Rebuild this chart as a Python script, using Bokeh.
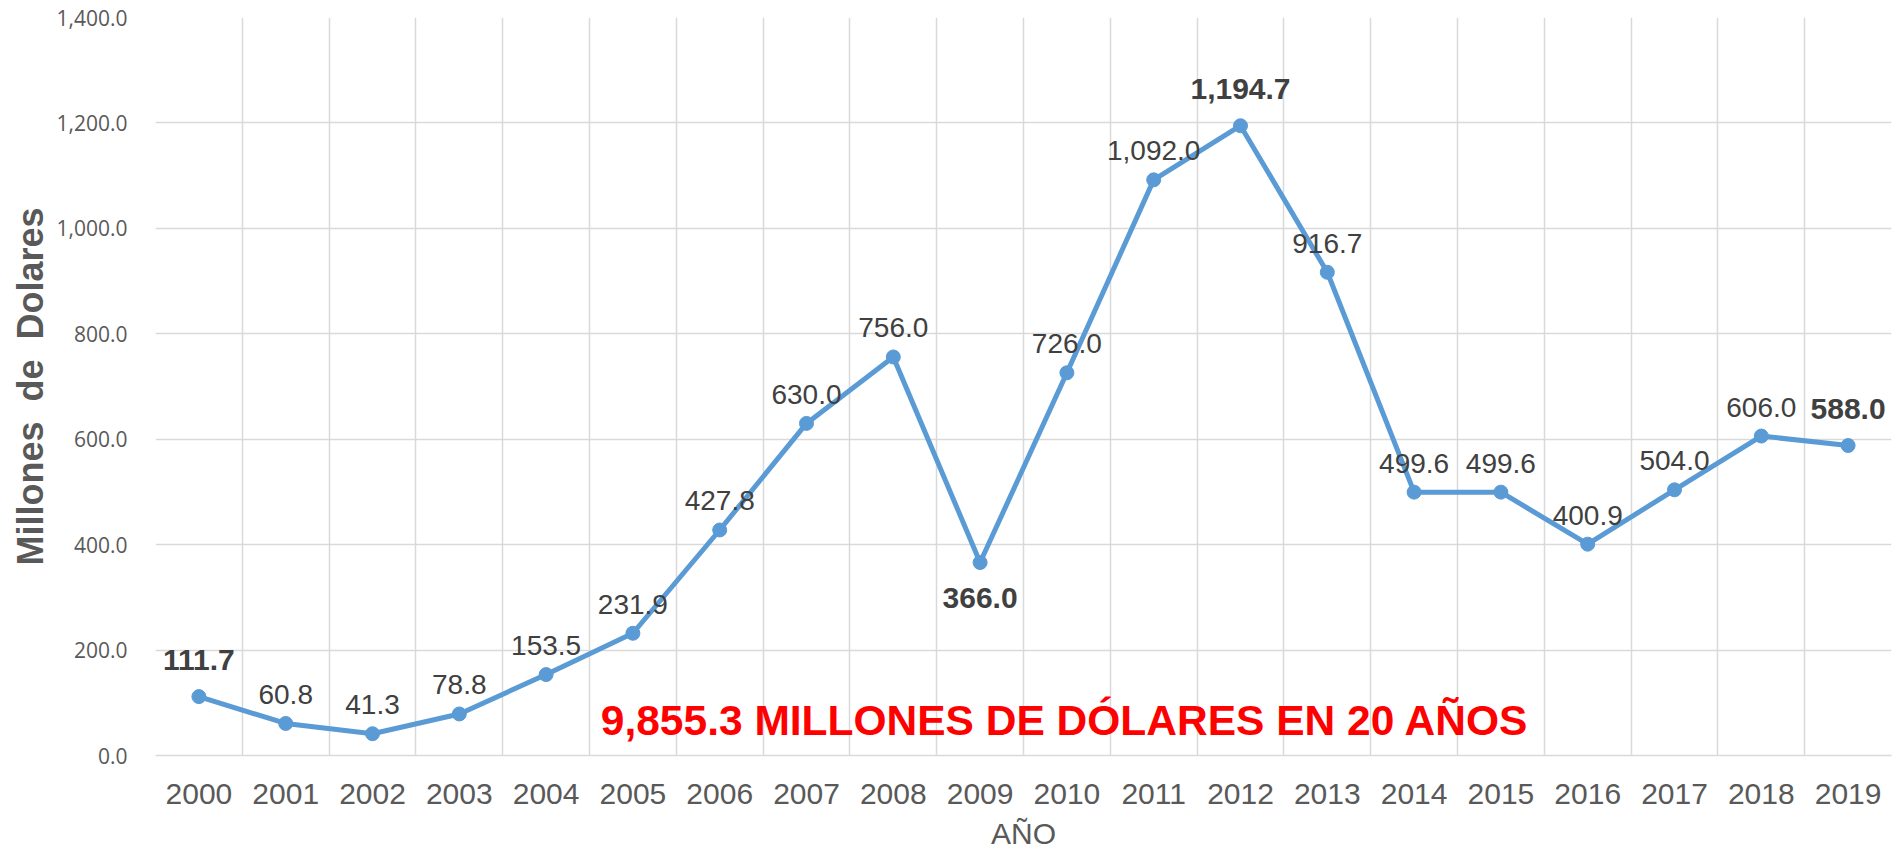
import numpy as np
from bokeh.plotting import figure
from bokeh.models import (ColumnDataSource, FixedTicker, Grid, NumeralTickFormatter,
                          Range1d, Label)
from bokeh.core.properties import value
from bokeh.embed import file_html
from bokeh.resources import INLINE

# ---- data ----
anios = ["2000", "2001", "2002", "2003", "2004", "2005", "2006", "2007", "2008", "2009",
         "2010", "2011", "2012", "2013", "2014", "2015", "2016", "2017", "2018", "2019"]
montos = [111.7, 60.8, 41.3, 78.8, 153.5, 231.9, 427.8, 630.0, 756.0, 366.0,
          726.0, 1092.0, 1194.7, 916.7, 499.6, 499.6, 400.9, 504.0, 606.0, 588.0]
destacados = ["2000", "2009", "2012", "2019"]   # bold labels
debajo = ["2009"]                                # labels placed below the point
y_ticks = [0, 200, 400, 600, 800, 1000, 1200, 1400]
titulo_y = "Millones \u00a0de \u00a0Dolares"
titulo_x = "AÑO"
nota = "9,855.3 MILLONES DE DÓLARES EN 20 AÑOS"

# ---- derived ----
n = len(anios)
xpos = [i + 0.5 for i in range(n)]
etiquetas = ["{:,.1f}".format(v) for v in montos]
estilo = ["bold" if a in destacados else "normal" for a in anios]
tam = ["30px" if a in destacados else "28px" for a in anios]
def off(a):
    if a in debajo:
        return 35
    return -37 if a in destacados else -29
yoff = [off(a) for a in anios]

src = ColumnDataSource(dict(x=xpos, y=montos, t=etiquetas, fs=estilo, sz=tam, yo=yoff))

GRID = "#d9d9d9"
TXT = "#595959"
BLUE = "#5B9BD5"

p = figure(width=1898, height=852, output_backend="svg", toolbar_location=None,
           x_range=Range1d(0, n), y_range=Range1d(0, 1400),
           min_border_left=155, min_border_right=7, min_border_top=17, min_border_bottom=97)
p.outline_line_color = None
p.background_fill_color = "white"
p.border_fill_color = "white"

# grids
p.xgrid.visible = False
p.ygrid.grid_line_color = GRID
p.ygrid.grid_line_width = 1.5
p.ygrid.ticker = FixedTicker(ticks=y_ticks)
vgrid = Grid(dimension=0, ticker=FixedTicker(ticks=list(range(n + 1))),
             grid_line_color=GRID, grid_line_width=1.5)
p.add_layout(vgrid)

# x axis
xa = p.xaxis[0]
xa.ticker = FixedTicker(ticks=xpos)
xa.major_label_overrides = {x: a for x, a in zip(xpos, anios)}
xa.major_label_text_font = "Liberation Sans"
xa.major_label_text_font_size = "30px"
xa.major_label_text_color = TXT
xa.major_label_standoff = 22
xa.major_tick_line_color = None
xa.minor_tick_line_color = None
xa.axis_line_color = GRID
xa.axis_line_width = 1.5
xa.axis_label = titulo_x
xa.axis_label_text_font = "Liberation Sans"
xa.axis_label_text_font_size = "30px"
xa.axis_label_text_font_style = "normal"
xa.axis_label_text_color = TXT
xa.axis_label_standoff = 10

# y axis
ya = p.yaxis[0]
ya.ticker = FixedTicker(ticks=y_ticks)
ya.formatter = NumeralTickFormatter(format="0,0.0")
ya.major_label_text_font = "Open Sans"
ya.major_label_text_font_size = "21px"
ya.major_label_text_color = TXT
ya.major_label_standoff = 22
ya.major_tick_line_color = None
ya.minor_tick_line_color = None
ya.axis_line_color = None
ya.axis_label = titulo_y
ya.axis_label_text_font = "Liberation Sans"
ya.axis_label_text_font_size = "36px"
ya.axis_label_text_font_style = "bold"
ya.axis_label_text_color = TXT
ya.axis_label_standoff = 3

# series
p.line("x", "y", source=src, line_color=BLUE, line_width=5)
p.scatter("x", "y", source=src, size=14, fill_color=BLUE, line_color=BLUE)

p.text("x", "y", text="t", source=src, text_font=value("Liberation Sans"),
       text_font_size="sz", text_font_style="fs", text_color="#404040",
       text_align="center", text_baseline="alphabetic", y_offset="yo")

p.add_layout(Label(x=5.13, y=66, text=nota, text_font="Liberation Sans",
                   text_font_size="42.5px", text_font_style="bold", text_color="#FF0000",
                   text_align="left", text_baseline="alphabetic"))

open("out.html", "w").write(file_html(p, INLINE))
